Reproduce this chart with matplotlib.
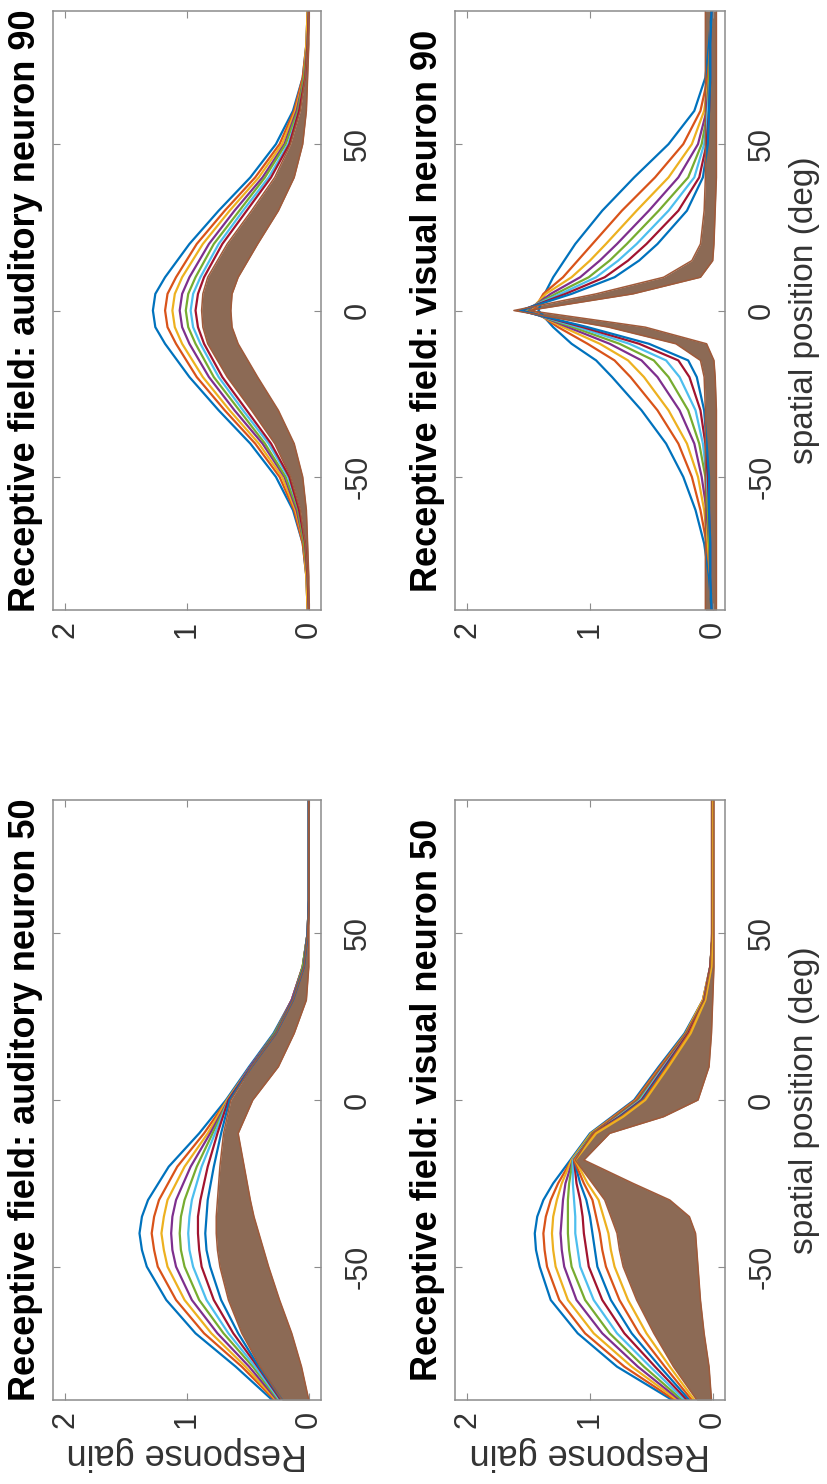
import numpy as np
import matplotlib.pyplot as plt

plt.rcParams['font.family'] = ['Liberation Sans', 'DejaVu Sans']
plt.rcParams['axes.unicode_minus'] = False

# MATLAB default line colour order
line_colors = ['#0072BD', '#D95319', '#EDB120', '#7E2F8E', '#77AC30', '#4DBEEE', '#A2142F']
band_color = '#8c6a55'
band_edge = '#a05a3a'

# ---- auditory neuron 90 ----
pos_a90 = [-90, -80, -70, -60, -50, -40, -30, -20, -10, -5, 0, 5, 10, 20, 30, 40, 50, 60, 70, 80, 90]
curves_a90 = [
    [.01, .02, .05, .13, .27, .48, .74, .98, 1.18, 1.26, 1.28, 1.26, 1.18, .98, .74, .48, .27, .13, .05, .02, .01],
    [.01, .02, .05, .12, .24, .44, .69, .92, 1.09, 1.16, 1.18, 1.16, 1.09, .92, .69, .44, .24, .12, .05, .02, .01],
    [.01, .02, .04, .11, .22, .41, .65, .87, 1.04, 1.10, 1.12, 1.10, 1.04, .87, .65, .41, .22, .11, .04, .02, .01],
    [.00, .01, .04, .10, .20, .38, .61, .82, .98, 1.04, 1.06, 1.04, .98, .82, .61, .38, .20, .10, .04, .01, .00],
    [.00, .01, .04, .09, .19, .36, .57, .78, .93, .99, 1.01, .99, .93, .78, .57, .36, .19, .09, .04, .01, .00],
    [.00, .01, .03, .08, .17, .33, .54, .74, .89, .95, .97, .95, .89, .74, .54, .33, .17, .08, .03, .01, .00],
    [.00, .01, .03, .08, .16, .31, .51, .71, .86, .91, .93, .91, .86, .71, .51, .31, .16, .08, .03, .01, .00],
]
band_hi_a90 = [.00, .01, .03, .07, .15, .28, .47, .67, .83, .87, .88, .87, .83, .67, .47, .28, .15, .07, .03, .01, .00]
band_lo_a90 = [.00, .00, .01, .02, .05, .12, .25, .42, .58, .63, .64, .63, .58, .42, .25, .12, .05, .02, .01, .00, .00]

# ---- auditory neuron 50 ----
pos_a50 = [-90, -80, -70, -60, -50, -45, -40, -35, -30, -20, -10, 0, 10, 20, 30, 40, 50, 60, 70, 80, 90]
curves_a50 = [
    [.30, .60, .93, 1.17, 1.33, 1.37, 1.39, 1.37, 1.32, 1.15, .90, .68, .49, .29, .14, .05, .01, 0, 0, 0, 0],
    [.28, .55, .86, 1.09, 1.24, 1.27, 1.29, 1.27, 1.23, 1.08, .86, .67, .48, .28, .14, .05, .01, 0, 0, 0, 0],
    [.27, .52, .80, 1.02, 1.16, 1.19, 1.21, 1.19, 1.16, 1.02, .83, .67, .48, .28, .14, .05, .01, 0, 0, 0, 0],
    [.26, .49, .75, .96, 1.09, 1.12, 1.13, 1.12, 1.09, .97, .81, .66, .48, .28, .14, .05, .01, 0, 0, 0, 0],
    [.25, .46, .70, .90, 1.02, 1.05, 1.06, 1.05, 1.02, .92, .79, .66, .47, .28, .13, .05, .01, 0, 0, 0, 0],
    [.24, .44, .66, .84, .95, .98, .99, .98, .96, .88, .77, .66, .47, .27, .13, .04, .01, 0, 0, 0, 0],
    [.23, .42, .62, .78, .88, .90, .91, .91, .89, .83, .75, .66, .47, .27, .13, .04, .01, 0, 0, 0, 0],
    [.22, .41, .58, .72, .81, .84, .85, .84, .83, .78, .72, .65, .47, .27, .13, .04, .01, 0, 0, 0, 0],
]
band_hi_a50 = [.22, .40, .55, .66, .73, .75, .76, .76, .75, .73, .70, .64, .47, .27, .13, .04, .01, 0, 0, 0, 0]
band_lo_a50 = [.00, .06, .14, .24, .33, .37, .41, .45, .48, .53, .58, .46, .25, .12, .02, .00, .00, 0, 0, 0, 0]

# ---- visual neuron 90 ----
pos_v90 = [-90, -80, -70, -60, -50, -40, -30, -20, -15, -10, -5, 0, 5, 10, 15, 20, 30, 40, 50, 60, 70, 80, 90]
curves_v90 = [
    [.01, .03, .07, .14, .24, .38, .58, .82, .95, 1.15, 1.30, 1.42, 1.37, 1.30, 1.21, 1.12, .90, .64, .36, .15, .06, .03, .01],
    [.01, .02, .05, .10, .17, .28, .45, .67, .80, 1.02, 1.26, 1.46, 1.38, 1.22, 1.10, .98, .74, .47, .24, .10, .04, .02, .01],
    [.01, .02, .04, .07, .12, .21, .36, .56, .69, .92, 1.22, 1.49, 1.36, 1.15, 1.00, .87, .62, .36, .17, .07, .03, .02, .01],
    [.01, .02, .03, .05, .09, .15, .27, .45, .58, .84, 1.18, 1.51, 1.32, 1.08, .92, .78, .52, .28, .12, .05, .03, .02, .01],
    [.01, .02, .03, .04, .06, .11, .20, .36, .48, .76, 1.14, 1.53, 1.28, 1.01, .84, .70, .44, .20, .09, .04, .03, .02, .01],
    [.01, .02, .02, .03, .05, .08, .14, .27, .38, .68, 1.10, 1.55, 1.24, .95, .77, .62, .36, .15, .07, .04, .02, .02, .01],
    [.01, .02, .02, .03, .04, .06, .10, .19, .28, .60, 1.06, 1.56, 1.20, .88, .69, .54, .28, .11, .05, .03, .02, .02, .01],
    [.01, .02, .02, .03, .03, .05, .07, .13, .20, .52, 1.02, 1.57, 1.15, .80, .60, .45, .21, .08, .04, .03, .02, .02, .01],
]
band_hi_v90 = [.06, .06, .06, .06, .06, .06, .06, .07, .10, .30, .85, 1.62, .95, .40, .17, .10, .07, .06, .06, .06, .06, .06, .06]
band_lo_v90 = [-.03, -.03, -.03, -.03, -.03, -.03, -.03, -.02, -.01, .05, .55, 1.50, .65, .10, .00, -.01, -.02, -.03, -.03, -.03, -.03, -.03, -.03]

# ---- visual neuron 50 ----
pos_v50 = [-90, -80, -70, -60, -50, -45, -40, -35, -30, -25, -18, -10, -5, 0, 10, 20, 30, 40, 50, 60, 70, 80, 90]
curves_v50 = [
    [.33, .78, 1.10, 1.32, 1.41, 1.44, 1.45, 1.43, 1.38, 1.30, 1.16, 1.00, .82, .64, .44, .23, .08, .02, 0, 0, 0, 0, 0],
    [.31, .72, 1.04, 1.25, 1.35, 1.37, 1.38, 1.36, 1.32, 1.26, 1.15, .99, .81, .63, .43, .22, .08, .02, 0, 0, 0, 0, 0],
    [.29, .66, .97, 1.18, 1.28, 1.30, 1.31, 1.30, 1.27, 1.23, 1.15, .99, .80, .62, .42, .22, .08, .02, 0, 0, 0, 0, 0],
    [.27, .61, .90, 1.11, 1.21, 1.23, 1.24, 1.23, 1.22, 1.20, 1.14, .98, .79, .61, .41, .21, .07, .02, 0, 0, 0, 0, 0],
    [.25, .56, .84, 1.04, 1.15, 1.17, 1.18, 1.18, 1.18, 1.17, 1.14, .98, .78, .60, .40, .21, .07, .02, 0, 0, 0, 0, 0],
    [.23, .51, .78, .97, 1.08, 1.10, 1.12, 1.12, 1.13, 1.14, 1.14, .97, .77, .59, .40, .20, .07, .02, 0, 0, 0, 0, 0],
    [.21, .47, .72, .90, 1.01, 1.03, 1.05, 1.06, 1.08, 1.11, 1.13, .97, .76, .58, .39, .20, .07, .02, 0, 0, 0, 0, 0],
    [.19, .43, .66, .83, .94, .96, .98, 1.00, 1.03, 1.08, 1.13, .96, .75, .57, .38, .19, .06, .01, 0, 0, 0, 0, 0],
    [.17, .39, .60, .76, .87, .90, .92, .95, .98, 1.05, 1.13, .96, .74, .56, .37, .19, .06, .01, 0, 0, 0, 0, 0],
    [.15, .35, .54, .69, .80, .83, .85, .89, .93, 1.02, 1.12, .95, .73, .55, .36, .18, .06, .01, 0, 0, 0, 0, 0],
]
band_hi_v50 = [.13, .32, .48, .62, .73, .76, .78, .83, .88, .98, 1.12, .98, .80, .62, .42, .22, .07, .02, .01, .01, .01, .01, .01]
band_lo_v50 = [.01, .03, .07, .10, .12, .13, .14, .19, .35, .65, 1.05, .84, .40, .12, .03, .01, .00, -.01, -.01, -.01, -.01, -.01, -.01]

gain_ticks = [0, 1, 2]
pos_ticks = [-50, 0, 50]

W, H = 827, 1484
fig = plt.figure(figsize=(W / 100, H / 100), dpi=100)


def panel(x0, y0, x1, y1):
    # pixel box -> figure fraction
    return fig.add_axes([x0 / W, 1 - y1 / H, (x1 - x0) / W, (y1 - y0) / H])


def draw_panel(ax, pos, curves, hi, lo, title, gain_label=False, pos_label=False):
    for i, c in enumerate(curves):
        ax.plot(c, pos, color=line_colors[i % len(line_colors)], lw=1.6)
    ax.fill_betweenx(pos, lo, hi, color=band_color, lw=0)
    ax.plot(hi, pos, color=band_edge, lw=1.1)
    ax.plot(lo, pos, color=band_edge, lw=1.1)

    ax.set_xlim(2.1, -0.1)
    ax.set_ylim(-90, 90)
    ax.set_xticks(gain_ticks)
    ax.set_yticks(pos_ticks)
    ax.set_xticklabels([str(t) for t in gain_ticks])
    ax.set_yticklabels([str(t) for t in pos_ticks])
    ax.yaxis.tick_right()
    ax.tick_params(direction='in', length=5, width=0.8, color='#8c8c8c',
                   labelsize=22, labelcolor='#333333',
                   top=True, bottom=True, left=True, right=True,
                   labelleft=False, labelright=True, labelbottom=True, labeltop=False)
    ax.tick_params(axis='x', pad=8, labelrotation=90)
    ax.tick_params(axis='y', pad=16, labelrotation=90)
    for lbl in ax.get_yticklabels():
        lbl.set_va('center')
    for sp in ax.spines.values():
        sp.set_color('#8c8c8c')
        sp.set_linewidth(1.1)

    ax.annotate(title, xy=(0, 0.5), xycoords='axes fraction', xytext=(-7, 0),
                textcoords='offset points', rotation=90, ha='right', va='center',
                fontsize=26, fontweight='bold', color='black')
    if gain_label:
        ax.annotate('Response gain', xy=(0.5, 0), xycoords='axes fraction', xytext=(0, -26),
                    textcoords='offset points', rotation=180, ha='center', va='top',
                    fontsize=26, color='#333333')
    if pos_label:
        ax.annotate('spatial position (deg)', xy=(1, 0.5), xycoords='axes fraction', xytext=(46, 0),
                    textcoords='offset points', rotation=90, ha='left', va='center',
                    fontsize=24, color='#333333')


ax_a90 = panel(53, 11, 321, 610)
ax_v90 = panel(455, 11, 725, 610)
ax_a50 = panel(53, 800, 321, 1400)
ax_v50 = panel(455, 800, 725, 1400)

draw_panel(ax_a90, pos_a90, curves_a90, band_hi_a90, band_lo_a90,
           'Receptive field: auditory neuron 90')
draw_panel(ax_v90, pos_v90, curves_v90, band_hi_v90, band_lo_v90,
           'Receptive field: visual neuron 90', pos_label=True)
draw_panel(ax_a50, pos_a50, curves_a50, band_hi_a50, band_lo_a50,
           'Receptive field: auditory neuron 50', gain_label=True)
draw_panel(ax_v50, pos_v50, curves_v50, band_hi_v50, band_lo_v50,
           'Receptive field: visual neuron 50', gain_label=True, pos_label=True)

fig.savefig('out.png', dpi=100)
